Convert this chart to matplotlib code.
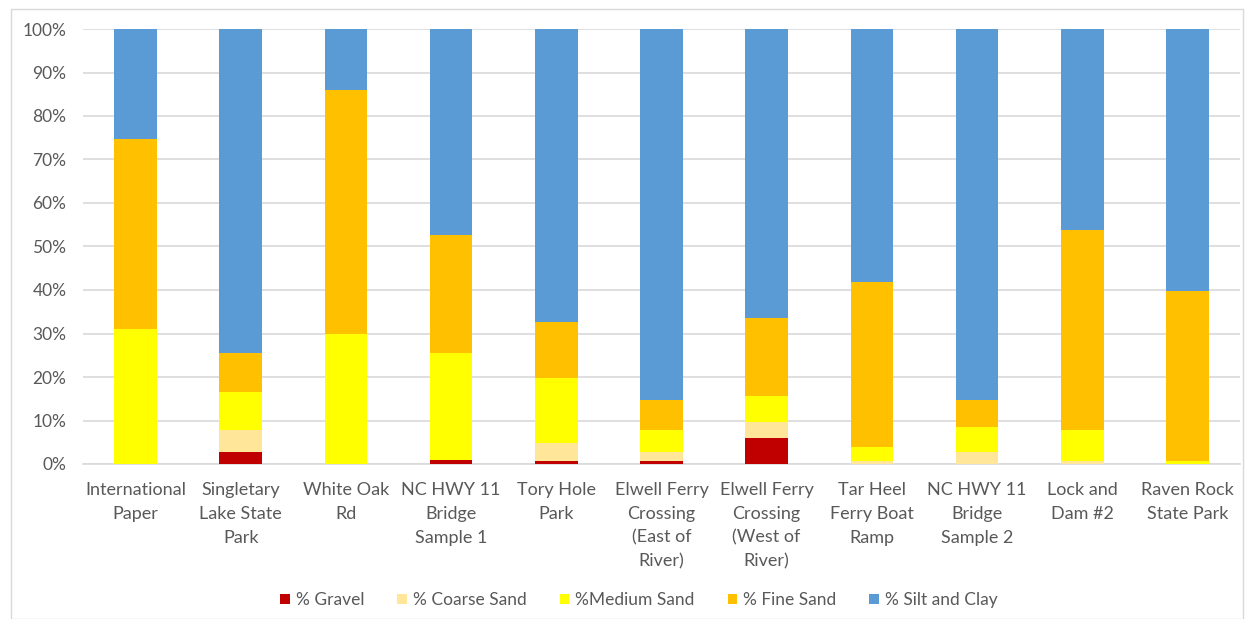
import matplotlib
matplotlib.use("Agg")
import matplotlib.pyplot as plt
import numpy as np
from matplotlib.patches import Rectangle
from matplotlib.ticker import FuncFormatter, MultipleLocator

categories = ["International\nPaper", "Singletary\nLake State\nPark", "White Oak\nRd",
              "NC HWY 11\nBridge\nSample 1", "Tory Hole\nPark",
              "Elwell Ferry\nCrossing\n(East of\nRiver)", "Elwell Ferry\nCrossing\n(West of\nRiver)",
              "Tar Heel\nFerry Boat\nRamp", "NC HWY 11\nBridge\nSample 2", "Lock and\nDam #2",
              "Raven Rock\nState Park"]

gravel = [0.0, 2.8, 0.0, 0.9, 0.8, 0.8, 5.9, 0.0, 0.0, 0.0, 0.0]
coarse_sand = [0.0, 5.0, 0.0, 0.0, 4.0, 2.0, 3.8, 0.8, 2.8, 0.8, 0.0]
medium_sand = [31.1, 8.7, 29.8, 24.6, 15.0, 5.0, 6.0, 3.1, 5.8, 7.0, 0.8]
fine_sand = [43.5, 9.0, 56.2, 27.1, 12.9, 7.0, 17.9, 37.9, 6.2, 46.1, 39.0]
silt_clay = [25.4, 74.5, 14.0, 47.4, 67.3, 85.2, 66.4, 58.2, 85.2, 46.1, 60.2]

series_names = ["% Gravel", "% Coarse Sand", "%Medium Sand", "% Fine Sand", "% Silt and Clay"]
colors = ["#C00000", "#FFE699", "#FFFF00", "#FFC000", "#5B9BD5"]

plt.rcParams['font.family'] = ['Lato', 'DejaVu Sans']

fig = plt.figure(figsize=(12.48, 6.19), dpi=100)
ax = fig.add_axes([83/1248, (619-464)/619, (1240-83)/1248, (464-29)/619])

x = np.arange(len(categories))
bottom = np.zeros(len(categories))
handles = []
for name, vals, c in zip(series_names, [gravel, coarse_sand, medium_sand, fine_sand, silt_clay], colors):
    v = np.array(vals) / 100.0
    b = ax.bar(x, v, width=0.405, bottom=bottom, color=c, label=name, zorder=3)
    handles.append(b)
    bottom += v

ax.set_xlim(-0.5, len(categories) - 0.5)
ax.set_ylim(0, 1.0)
ax.yaxis.set_major_locator(MultipleLocator(0.1))
ax.yaxis.set_major_formatter(FuncFormatter(lambda v, p: f"{v*100:.0f}%"))
ax.grid(axis='y', color='#D9D9D9', linewidth=1.2, zorder=0)
ax.set_axisbelow(True)
for s in ["top", "right", "left"]:
    ax.spines[s].set_visible(False)
ax.spines["bottom"].set_color("#D9D9D9")
ax.spines["bottom"].set_linewidth(1.2)
ax.tick_params(axis='both', length=0, colors='#595959')
ax.tick_params(axis='y', pad=12, labelsize=12.5)
ax.tick_params(axis='x', pad=13)
ax.set_xticks(x)
ax.set_xticklabels(categories, linespacing=1.6, color='#595959', fontsize=13)

leg = fig.legend(handles=handles, labels=series_names, loc='center', bbox_to_anchor=(639/1248, 1 - 600/619),
                 ncol=5, frameon=False, fontsize=12.5, handlelength=0.55, handleheight=0.55,
                 handletextpad=0.35, columnspacing=1.9)
for t in leg.get_texts():
    t.set_color('#595959')

fig.patches.append(Rectangle((11/1248, 0), (1243-11)/1248, 1 - 9/619, transform=fig.transFigure,
                             fill=False, edgecolor='#D9D9D9', linewidth=1.0))

fig.savefig("out.png", dpi=100, facecolor='white')
